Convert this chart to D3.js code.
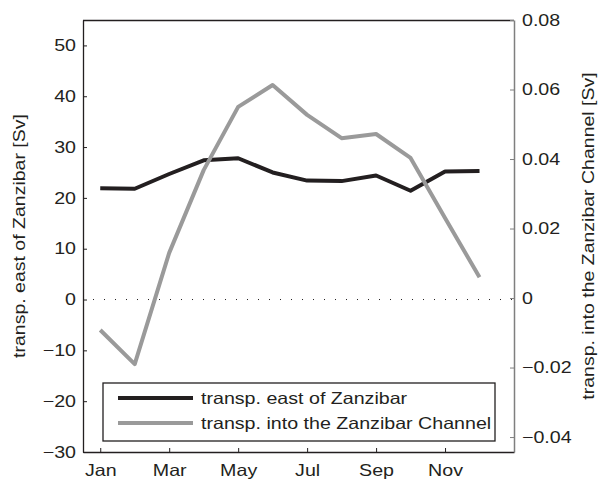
<!DOCTYPE html>
<html>
<head>
<meta charset="utf-8">
<script src="https://cdn.jsdelivr.net/npm/d3@7"></script>
<style>
  body { margin: 0; background: #fff; }
  svg { display: block; font-family: "Liberation Sans", Arial, sans-serif; }
</style>
</head>
<body>
<svg width="599" height="481"></svg>
<script>
// monthly values
const months = [1, 2, 3, 4, 5, 6, 7, 8, 9, 10, 11, 12];
const eastZanzibar = [21.9, 21.8, 24.7, 27.4, 27.8, 25.0, 23.4, 23.3, 24.4, 21.4, 25.2, 25.3];
const intoChannel = [-0.0092, -0.019, 0.013, 0.0368, 0.055, 0.0613, 0.0527, 0.046, 0.0472, 0.0403, 0.023, 0.006];
const xTicks = [1, 3, 5, 7, 9, 11];
const xTickLabels = ["Jan", "Mar", "May", "Jul", "Sep", "Nov"];
const leftTicks = [-30, -20, -10, 0, 10, 20, 30, 40, 50];
const rightTicks = [-0.04, -0.02, 0, 0.02, 0.04, 0.06, 0.08];
const legendLabels = ["transp. east of Zanzibar", "transp. into the Zanzibar Channel"];

const ink = "#231f20", grey = "#9a9a9a";
const m = { left: 83, right: 514, top: 20, bottom: 452 };
const fs = 16.5, sx = 1.19; // the original font is wider than Arial

const svg = d3.select("svg");

const x = d3.scaleLinear().domain([0.5, 13]).range([m.left, m.right]);
const yL = d3.scaleLinear().domain([-30, 55]).range([m.bottom, m.top]);
const yR = d3.scaleLinear().domain([-0.0443, 0.08]).range([m.bottom, m.top]);

// stretch text horizontally, keeping its anchor point
function widen(sel) {
  sel.each(function () {
    const t = d3.select(this);
    const tx = +t.attr("x") || 0;
    t.attr("x", tx / sx).attr("transform", `scale(${sx},1)`);
  });
}

// zero line
svg.append("line")
    .attr("x1", m.left + 10).attr("x2", m.right)
    .attr("y1", yL(0)).attr("y2", yL(0))
    .attr("stroke", ink).attr("stroke-width", 1)
    .attr("stroke-dasharray", "1,10");

// lines
const lineL = d3.line().x((d, i) => x(months[i])).y(d => yL(d));
const lineR = d3.line().x((d, i) => x(months[i])).y(d => yR(d));

svg.append("path").datum(eastZanzibar)
    .attr("d", lineL).attr("fill", "none")
    .attr("stroke", ink).attr("stroke-width", 4).attr("stroke-linejoin", "round");

svg.append("path").datum(intoChannel)
    .attr("d", lineR).attr("fill", "none")
    .attr("stroke", grey).attr("stroke-width", 4).attr("stroke-linejoin", "round");

// top border
svg.append("line")
    .attr("x1", m.left).attr("x2", m.right)
    .attr("y1", m.top + 0.5).attr("y2", m.top + 0.5)
    .attr("stroke", ink).attr("stroke-width", 1.3);

// axes
const gx = svg.append("g")
    .attr("transform", `translate(0,${m.bottom})`)
    .call(d3.axisBottom(x).tickValues(xTicks).tickFormat((d, i) => xTickLabels[i])
        .tickSizeInner(-4).tickSizeOuter(0).tickPadding(12));

const gl = svg.append("g")
    .attr("transform", `translate(${m.left},0)`)
    .call(d3.axisLeft(yL).tickValues(leftTicks).tickFormat(d => d < 0 ? "\u2212" + Math.abs(d) : d)
        .tickSizeInner(-4).tickSizeOuter(0).tickPadding(7));

const gr = svg.append("g")
    .attr("transform", `translate(${m.right},0)`)
    .call(d3.axisRight(yR).tickValues(rightTicks)
        .tickFormat(d => d === 0 ? "0" : (d < 0 ? "\u2212" : "") + Math.abs(d).toFixed(2))
        .tickSizeInner(-4).tickSizeOuter(0).tickPadding(8));

[gx, gl].forEach(g => {
  g.select(".domain").attr("stroke", ink).attr("stroke-width", 1.3);
  g.selectAll(".tick line").attr("stroke", ink);
});
gr.select(".domain").attr("stroke", "#7f7f7f").attr("stroke-width", 1.5);
gr.selectAll(".tick line").attr("stroke", "#7f7f7f");

svg.selectAll(".tick text").attr("fill", ink).attr("font-size", fs)
    .attr("font-family", "Liberation Sans, Arial, sans-serif")
    .call(widen);

// axis titles
const midY = (m.top + m.bottom) / 2;
svg.append("text")
    .attr("transform", `translate(25,${midY}) rotate(-90) scale(1.22,1)`)
    .attr("text-anchor", "middle").attr("font-size", 16).attr("fill", ink)
    .text("transp. east of Zanzibar [Sv]");

svg.append("text")
    .attr("transform", `translate(594,${midY}) rotate(-90) scale(1.22,1)`)
    .attr("text-anchor", "middle").attr("font-size", 16).attr("fill", ink)
    .text("transp. into the Zanzibar Channel [Sv]");

// legend
const lg = svg.append("g");
lg.append("rect")
    .attr("x", 103).attr("y", 383).attr("width", 392).attr("height", 58)
    .attr("fill", "#fff").attr("stroke", ink).attr("stroke-width", 1.3);
const colors = [ink, grey];
legendLabels.forEach((t, i) => {
  const yy = 398 + i * 25;
  lg.append("line").attr("x1", 118).attr("x2", 193).attr("y1", yy).attr("y2", yy)
      .attr("stroke", colors[i]).attr("stroke-width", 4);
  lg.append("text").attr("x", 201).attr("y", yy + 6)
      .attr("font-size", fs).attr("fill", ink).text(t)
      .call(widen);
});
</script>
</body>
</html>
